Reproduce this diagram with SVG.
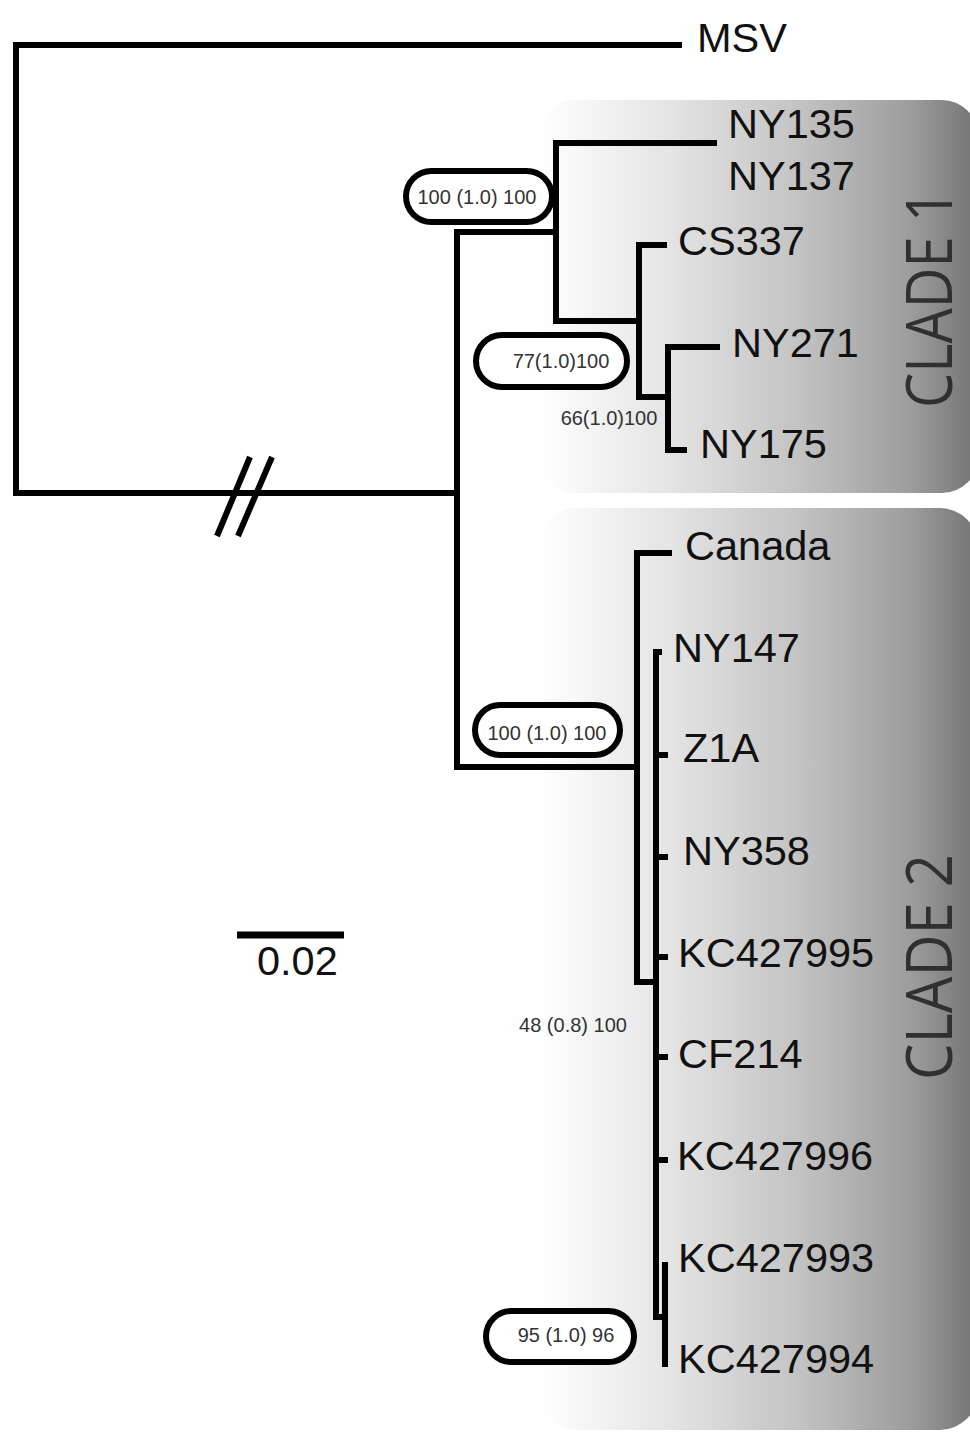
<svg xmlns="http://www.w3.org/2000/svg" width="970" height="1432" viewBox="0 0 970 1432">
<defs>
<linearGradient id="cladeGrad" x1="0" y1="0" x2="1" y2="0">
<stop offset="0" stop-color="#ffffff"/>
<stop offset="0.3" stop-color="#e4e4e4"/>
<stop offset="0.6" stop-color="#c2c2c2"/>
<stop offset="0.85" stop-color="#9c9c9c"/>
<stop offset="1" stop-color="#737373"/>
</linearGradient>
<style>
.br{fill:none;stroke:#000;stroke-width:6;stroke-linejoin:miter;stroke-linecap:butt}
.tk{fill:none;stroke:#000;stroke-width:6}
.lbl{font-family:"Liberation Sans",Arial,sans-serif;font-size:41.5px;fill:#111}
.bs{font-family:"Liberation Sans",Arial,sans-serif;font-size:20px;fill:#333}
.oval{fill:#fff;stroke:#000;stroke-width:6}
.clade{font-family:"Open Sans","Liberation Sans",sans-serif;font-size:64px;fill:#303030}
</style>
</defs>
<rect width="970" height="1432" fill="#fff"/>
<g id="clade1-box">
<rect x="538" y="100" width="440" height="393" rx="36" fill="url(#cladeGrad)"/>
<text class="clade" transform="translate(952,299) rotate(-90)" text-anchor="middle" textLength="218" lengthAdjust="spacingAndGlyphs">CLADE 1</text>
</g>
<g id="clade2-box">
<rect x="538" y="508" width="440" height="922" rx="38" fill="url(#cladeGrad)"/>
<text class="clade" transform="translate(952,967) rotate(-90)" text-anchor="middle" textLength="226" lengthAdjust="spacingAndGlyphs">CLADE 2</text>
</g>
<g id="connectors">
<path class="br" d="M682,45 H16 V493 H457"/>
<path class="br" d="M556,232 H457 V767 H637"/>
<path class="br" d="M717,143 H556 V321 H639"/>
<path class="br" d="M667,245 H639 V397 H668"/>
<path class="br" d="M720,347 H668 V450 H687"/>
<path class="br" d="M672,553 H637 V982 H656"/>
<path class="br" d="M662,652 H656 V1317 H665"/>
<path class="br" d="M665,1262 V1367"/>
<path class="tk" d="M656,755 H668 M656,857 H668 M656,957 H668 M656,1057 H668 M656,1160 H668"/>
<path class="br" d="M217,536 L250,457 M238,536 L272,457" stroke-width="7"/>
</g>
<g id="leaf-MSV"><text class="lbl" x="697" y="52">MSV</text></g>
<g id="leaf-NY135"><text class="lbl" x="728" y="138">NY135</text></g>
<g id="leaf-NY137"><text class="lbl" x="728" y="190">NY137</text></g>
<g id="leaf-CS337"><text class="lbl" x="678" y="255">CS337</text></g>
<g id="leaf-NY271"><text class="lbl" x="732" y="357">NY271</text></g>
<g id="leaf-NY175"><text class="lbl" x="700" y="458">NY175</text></g>
<g id="leaf-Canada"><text class="lbl" x="685" y="560">Canada</text></g>
<g id="leaf-NY147"><text class="lbl" x="673" y="662">NY147</text></g>
<g id="leaf-Z1A"><text class="lbl" x="683" y="762">Z1A</text></g>
<g id="leaf-NY358"><text class="lbl" x="683" y="865">NY358</text></g>
<g id="leaf-KC427995"><text class="lbl" x="678" y="967">KC427995</text></g>
<g id="leaf-CF214"><text class="lbl" x="678" y="1068">CF214</text></g>
<g id="leaf-KC427996"><text class="lbl" x="677" y="1170">KC427996</text></g>
<g id="leaf-KC427993"><text class="lbl" x="678" y="1272">KC427993</text></g>
<g id="leaf-KC427994"><text class="lbl" x="678" y="1373">KC427994</text></g>
<g id="support-clade1">
<rect class="oval" x="406" y="171" width="146" height="51" rx="25.5"/>
<text class="bs" x="477" y="204" text-anchor="middle">100 (1.0) 100</text>
</g>
<g id="support-77">
<rect class="oval" x="476" y="335" width="151" height="52" rx="26"/>
<text class="bs" x="561" y="368" text-anchor="middle">77(1.0)100</text>
</g>
<g id="support-66">
<text class="bs" x="609" y="425" text-anchor="middle">66(1.0)100</text>
</g>
<g id="support-clade2">
<rect class="oval" x="475" y="705" width="145" height="50" rx="25"/>
<text class="bs" x="547" y="740" text-anchor="middle">100 (1.0) 100</text>
</g>
<g id="support-48">
<text class="bs" x="573" y="1032" text-anchor="middle">48 (0.8) 100</text>
</g>
<g id="support-95">
<rect class="oval" x="486" y="1311" width="148" height="51" rx="25.5"/>
<text class="bs" x="566" y="1342" text-anchor="middle">95 (1.0) 96</text>
</g>
<g id="scale-bar">
<path d="M237,935 H344" stroke="#000" stroke-width="7"/>
<text class="lbl" x="257" y="975">0.02</text>
</g>
</svg>
